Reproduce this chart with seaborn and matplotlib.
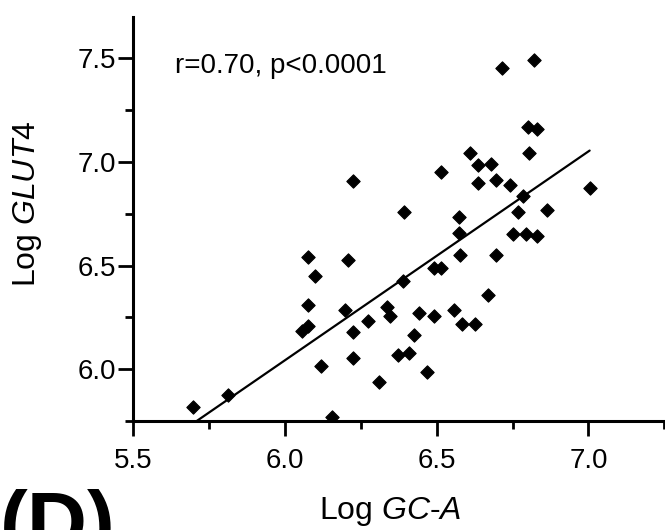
import numpy as np
import pandas as pd
import seaborn as sns
import matplotlib.pyplot as plt
from matplotlib.ticker import MultipleLocator

# values (log GC-A vs log GLUT4)
log_gca = [6.715, 6.820, 6.801, 6.829, 6.803, 6.610, 6.635, 6.680, 6.513, 6.635,
           6.696, 6.741, 6.784, 7.004, 6.767, 6.864, 6.391, 6.574, 6.223, 6.573,
           6.750, 6.793, 6.829, 6.576, 6.696, 6.493, 6.515, 6.390, 6.670, 6.442,
           6.493, 6.557, 6.584, 6.627, 6.424, 6.373, 6.409, 6.468, 6.076, 6.207,
           6.100, 6.076, 6.197, 6.076, 6.058, 6.223, 6.275, 6.336, 6.347, 6.119,
           6.223, 6.310, 5.813, 5.698, 6.154]
log_glut4 = [7.452, 7.491, 7.170, 7.158, 7.041, 7.041, 6.986, 6.989, 6.950, 6.899,
             6.912, 6.888, 6.835, 6.875, 6.757, 6.770, 6.757, 6.736, 6.910, 6.656,
             6.654, 6.654, 6.643, 6.553, 6.553, 6.490, 6.490, 6.426, 6.360, 6.270,
             6.257, 6.285, 6.219, 6.219, 6.167, 6.066, 6.077, 5.987, 6.539, 6.526,
             6.449, 6.309, 6.285, 6.206, 6.182, 6.180, 6.233, 6.301, 6.257, 6.014,
             6.052, 5.936, 5.875, 5.819, 5.770]

x_ticks = [5.5, 6.0, 6.5, 7.0]
y_ticks = [6.0, 6.5, 7.0, 7.5]
stats_text = "r=0.70, p<0.0001"

df = pd.DataFrame({"gca": log_gca, "glut4": log_glut4})

sns.set_theme(style="ticks")
plt.rcParams["font.family"] = ["Liberation Sans", "DejaVu Sans"]
plt.rcParams["mathtext.fontset"] = "custom"
plt.rcParams["mathtext.rm"] = "Liberation Sans"
plt.rcParams["mathtext.it"] = "Liberation Sans:italic"

fig = plt.figure(figsize=(6.65, 5.3), dpi=100)
ax = fig.add_axes([0.2, 0.2057, 0.799, 0.7627])

# scatter + least-squares line (no confidence band)
sns.regplot(data=df, x="gca", y="glut4", ax=ax, ci=None, truncate=True,
            marker="D", color="black",
            scatter_kws={"s": 46, "linewidths": 0.8, "edgecolors": "black",
                         "alpha": 1.0},
            line_kws={"linewidth": 1.6, "color": "black"})

ax.set_xlim(5.5, 7.25)
ax.set_ylim(5.75, 7.7)
ax.set_xticks(x_ticks)
ax.set_yticks(y_ticks)
ax.xaxis.set_minor_locator(MultipleLocator(0.25))
ax.yaxis.set_minor_locator(MultipleLocator(0.25))
ax.xaxis.set_major_formatter(plt.FuncFormatter(lambda v, pos: f"{v:.1f}"))
ax.yaxis.set_major_formatter(plt.FuncFormatter(lambda v, pos: f"{v:.1f}"))

sns.despine(ax=ax)
for side in ["left", "bottom"]:
    ax.spines[side].set_linewidth(2.2)
    ax.spines[side].set_color("black")
ax.tick_params(which="major", length=10.5, width=2.0, color="black",
               labelsize=20, labelcolor="black")
ax.tick_params(which="minor", length=5.8, width=2.0, color="black")
ax.tick_params(axis="x", which="major", pad=9)
ax.tick_params(axis="y", which="major", pad=2)

ax.set_xlabel(r"Log $\mathit{GC}$-$\mathit{A}$", fontsize=23, color="black")
ax.set_ylabel(r"Log $\mathit{GLUT4}$", fontsize=23, color="black")
ax.xaxis.set_label_coords(0.485, -0.183)
ax.yaxis.set_label_coords(-0.167, 0.537)

ax.text(5.638, 7.428, stats_text, fontsize=20, color="black",
        ha="left", va="baseline")

# panel letter, partly cut by the bottom edge as in the source figure
fig.text(0.0, -0.038, "(D)", fontsize=60, fontweight="bold", color="black",
         ha="left", va="baseline")

fig.savefig("out.png", dpi=100)
